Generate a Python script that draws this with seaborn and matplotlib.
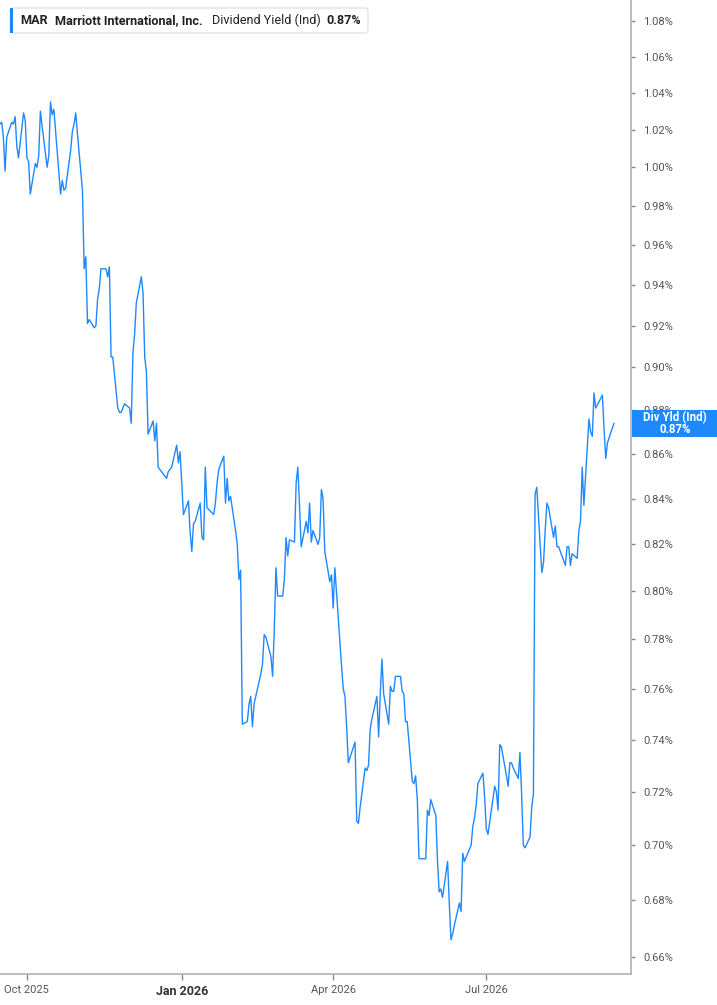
import pandas as pd
import numpy as np
import matplotlib
matplotlib.use("Agg")
import matplotlib.pyplot as plt
import matplotlib.ticker as mticker
import matplotlib.patches as mpatches
import matplotlib.dates as mdates
import seaborn as sns

# market holidays (trading calendar)
holidays = ["2025-11-27", "2025-12-25", "2026-01-01", "2026-01-19", "2026-02-16",
            "2026-04-03", "2026-05-25", "2026-06-19", "2026-07-03", "2026-09-07"]

# dividend yield (%), one value per trading day
yield_pct = [
    1.023, 1.024, 1.016, 0.998, 1.016, 1.024, 1.023, 1.027, 1.011, 1.005,
    1.029, 1.025, 1.005, 1.003, 0.986, 1.002, 1.000, 1.006, 1.030, 1.022,
    1.000, 1.006, 1.035, 1.028, 1.031, 0.997, 0.986, 0.993, 0.988, 0.989,
    1.009, 1.019, 1.023, 1.029, 1.018, 0.988, 0.948, 0.954, 0.921, 0.923,
    0.919, 0.920, 0.933, 0.938, 0.948, 0.948, 0.944, 0.949, 0.905, 0.905,
    0.881, 0.879, 0.879, 0.883, 0.881, 0.874, 0.907, 0.916, 0.931, 0.944,
    0.936, 0.905, 0.898, 0.869, 0.875, 0.866, 0.874,
    0.854, 0.853, 0.850, 0.849, 0.852, 0.854, 0.864, 0.856, 0.861, 0.833,
    0.839, 0.825, 0.817, 0.829, 0.830, 0.838, 0.823, 0.822, 0.854, 0.836,
    0.833, 0.838, 0.847, 0.853, 0.859, 0.838, 0.849, 0.839, 0.841, 0.826,
    0.820, 0.805, 0.809, 0.746, 0.747, 0.754, 0.757, 0.745, 0.754, 0.766,
    0.770, 0.782, 0.781, 0.773, 0.765, 0.784, 0.810, 0.798, 0.798, 0.805,
    0.823, 0.815, 0.822, 0.821, 0.847, 0.854, 0.837, 0.819, 0.830, 0.825,
    0.838,
    0.821, 0.826, 0.820, 0.823, 0.844, 0.840, 0.817, 0.804, 0.807, 0.793,
    0.810, 0.769, 0.760, 0.757, 0.745, 0.731, 0.737, 0.739, 0.709, 0.708,
    0.714, 0.729, 0.728, 0.730, 0.744, 0.748, 0.757, 0.741, 0.758, 0.772,
    0.758, 0.746, 0.761, 0.759, 0.759, 0.765, 0.765, 0.759, 0.758, 0.747,
    0.747, 0.724, 0.723, 0.726, 0.717, 0.695, 0.695, 0.713, 0.711, 0.717,
    0.711, 0.694, 0.683, 0.684, 0.681, 0.694, 0.679, 0.666,
    0.668, 0.671, 0.679, 0.676, 0.697, 0.694, 0.700, 0.707, 0.710, 0.715,
    0.723, 0.727, 0.718, 0.706, 0.704, 0.722, 0.720, 0.713, 0.738, 0.737,
    0.726, 0.722, 0.731, 0.731, 0.729, 0.725, 0.735, 0.719, 0.700, 0.699,
    0.703, 0.714, 0.719, 0.842, 0.845, 0.808, 0.812, 0.826, 0.838, 0.836,
    0.823, 0.828, 0.819, 0.819, 0.817, 0.811, 0.819, 0.819, 0.811, 0.816,
    0.814, 0.826, 0.830, 0.854, 0.837, 0.876, 0.870, 0.868, 0.888, 0.881,
    0.887, 0.871, 0.858, 0.865, 0.872, 0.874,
]

dates = pd.bdate_range(start="2025-09-15", periods=len(yield_pct), freq="C", holidays=holidays)

y_ticks = [0.66, 0.68, 0.70, 0.72, 0.74, 0.76, 0.78, 0.80, 0.82, 0.84, 0.86,
           0.88, 0.90, 0.92, 0.94, 0.96, 0.98, 1.00, 1.02, 1.04, 1.06, 1.08]
x_ticks = ["2025-10-01", "2026-01-01", "2026-04-01", "2026-07-01"]
x_labels = ["Oct 2025", "Jan 2026", "Apr 2026", "Jul 2026"]

df = pd.DataFrame({"date": dates, "yield": yield_pct})

sns.set_style("white")
plt.rcParams["font.family"] = ["Roboto", "DejaVu Sans"]

W, H = 717, 1005
fig = plt.figure(figsize=(W / 100, H / 100), dpi=100)
ax = fig.add_axes([0, 31 / H, 631 / W, 1 - 31 / H])

blue = "#1e88ff"
sns.lineplot(data=df, x="date", y="yield", ax=ax, color=blue, linewidth=1.0)

ax.set_yscale("log")
ax.set_ylim(0.6541, 1.092)
ax.set_xlim(pd.Timestamp("2025-09-15"), pd.Timestamp("2026-09-25"))
ax.set_xlabel("")
ax.set_ylabel("")

ax.yaxis.tick_right()
ax.yaxis.set_major_locator(mticker.FixedLocator(y_ticks))
ax.yaxis.set_minor_locator(mticker.NullLocator())
ax.yaxis.set_major_formatter(mticker.FuncFormatter(lambda v, p: f"{v:.2f}%"))
ax.tick_params(axis="y", which="major", right=True, left=False, length=3, width=1,
               color="#888888", labelcolor="#555555", labelsize=8, pad=6)

ax.set_xticks([pd.Timestamp(d) for d in x_ticks])
ax.set_xticklabels(x_labels)
ax.tick_params(axis="x", bottom=True, length=4, width=1, color="#888888",
               labelcolor="#555555", labelsize=8, pad=4)
jan = ax.get_xticklabels()[1]
jan.set_fontweight("bold")
jan.set_fontsize(9)
jan.set_color("#333333")

for side in ["left", "top"]:
    ax.spines[side].set_visible(False)
for side in ["bottom", "right"]:
    ax.spines[side].set_color("#b0b0b0")
    ax.spines[side].set_linewidth(1.2)
ax.grid(False)


def fx(px):
    return px / W


def fy(py):
    return 1 - py / H


# header box
box = mpatches.FancyBboxPatch((fx(10), fy(33)), fx(368) - fx(10), fy(8) - fy(33),
                              boxstyle="round,pad=0,rounding_size=0.004",
                              transform=fig.transFigure, facecolor="white",
                              edgecolor="#e3e3e3", linewidth=1, zorder=5)
fig.patches.append(box)
bar = mpatches.Rectangle((fx(10), fy(33)), fx(3), fy(8) - fy(33),
                         transform=fig.transFigure, facecolor=blue, edgecolor="none", zorder=6)
fig.patches.append(bar)
hy = fy(20.5)
fs = 9.1
fig.text(fx(20), hy, "MAR", fontsize=fs, fontweight="bold", color="#222222", va="center", zorder=7)
fig.text(fx(55), hy, "Marriott International, Inc.", fontsize=fs, fontweight="bold",
         color="#222222", va="center", zorder=7)
fig.text(fx(212), hy, "Dividend Yield (Ind)", fontsize=fs, color="#222222", va="center", zorder=7)
fig.text(fx(326), hy, f"{yield_pct[-1]:.2f}%", fontsize=fs, fontweight="bold",
         color="#222222", va="center", zorder=7)

# last value tag on the right axis
last_y = ax.transData.transform((mdates.date2num(dates[-1]), yield_pct[-1]))[1]
tag_h = 27 / H
tag_cy = last_y / H
tag = mpatches.Rectangle((fx(632), tag_cy - tag_h / 2), fx(85), tag_h,
                         transform=fig.transFigure, facecolor=blue, edgecolor="none", zorder=8)
fig.patches.append(tag)
fig.text(fx(675), tag_cy + 6 / H, "Div Yld (Ind)", fontsize=8.3, fontweight="bold",
         color="white", ha="center", va="center", zorder=9)
fig.text(fx(675), tag_cy - 6 / H, f"{yield_pct[-1]:.2f}%", fontsize=8.3, fontweight="bold",
         color="white", ha="center", va="center", zorder=9)

fig.savefig("out.png", dpi=100)
